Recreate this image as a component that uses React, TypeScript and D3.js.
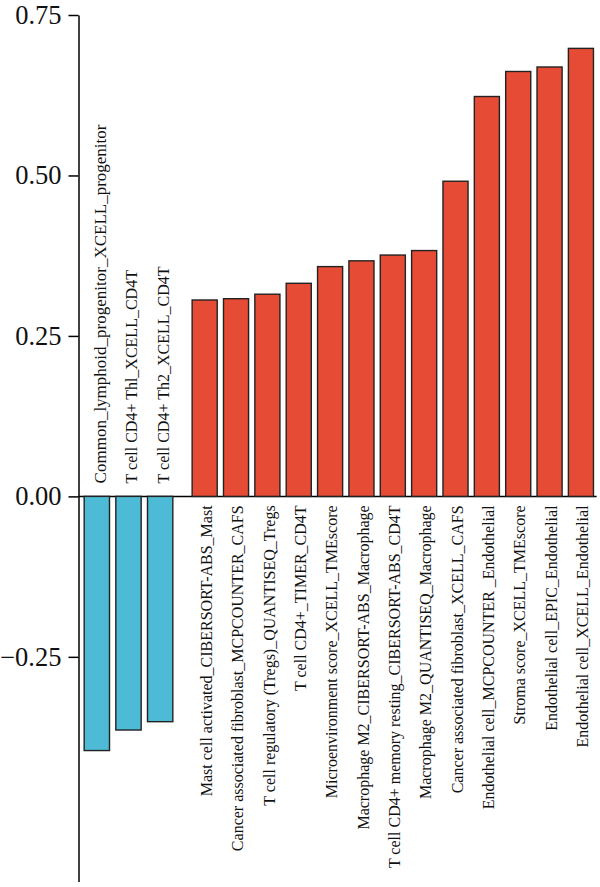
import * as d3 from "d3";
import { useEffect, useRef } from "react";

const WIDTH = 600;
const HEIGHT = 887;

// negative correlations (blue)
const negNames = [
    "Common_lymphoid_progenitor_XCELL_progenitor",
    "T cell CD4+ Thl_XCELL_CD4T",
    "T cell CD4+ Th2_XCELL_CD4T",
];
const negValues = [-0.396, -0.364, -0.351];

// positive correlations (red)
const posNames = [
    "Mast cell activated_CIBERSORT-ABS_Mast",
    "Cancer associated fibroblast_MCPCOUNTER_CAFS",
    "T cell regulatory (Tregs)_QUANTISEQ_Tregs",
    "T cell CD4+_TIMER_CD4T",
    "Microenvironment score_XCELL_TMEscore",
    "Macrophage M2_CIBERSORT-ABS_Macrophage",
    "T cell CD4+ memory resting_CIBERSORT-ABS_CD4T",
    "Macrophage M2_QUANTISEQ_Macrophage",
    "Cancer associated fibroblast_XCELL_CAFS",
    "Endothelial cell_MCPCOUNTER _Endothelial",
    "Stroma score_XCELL_TMEscore",
    "Endothelial cell_EPIC_Endothelial",
    "Endothelial cell_XCELL_Endothelial",
];
const posValues = [0.306, 0.308, 0.315, 0.332, 0.358, 0.367, 0.376, 0.383, 0.491, 0.623, 0.662, 0.669, 0.698];

const yTicks = [-0.25, 0, 0.25, 0.5, 0.75];

const RED = "#E64B35";
const BLUE = "#4DBBD5";
const FONT = "Liberation Serif, Times New Roman, Times, serif";

export default function App() {
    const svgRef = useRef<SVGSVGElement | null>(null);

    useEffect(() => {
        document.body.style.margin = "0";
        if (!svgRef.current) return;
        const svg = d3.select(svgRef.current);
        svg.selectAll("*").remove();

        const axisX = 78.5;
        const y = d3.scaleLinear().domain([-0.6, 0.75]).range([881.5, 15]);
        const negX = d3.scaleBand().domain(negNames).range([81, 176]).paddingInner(0.2).paddingOuter(0.1);
        const posX = d3.scaleBand().domain(posNames).range([189, 596.6]).paddingInner(0.2).paddingOuter(0.1);

        // zero line
        svg.append("line")
            .attr("x1", axisX)
            .attr("x2", posX.range()[1])
            .attr("y1", y(0))
            .attr("y2", y(0))
            .attr("stroke", "#000")
            .attr("stroke-width", 1.5);

        const negData = negNames.map((name, i) => ({ name, value: negValues[i] }));
        const posData = posNames.map((name, i) => ({ name, value: posValues[i] }));

        svg.append("g")
            .selectAll("rect")
            .data(negData)
            .enter()
            .append("rect")
            .attr("x", (d) => negX(d.name)!)
            .attr("y", y(0))
            .attr("width", negX.bandwidth())
            .attr("height", (d) => y(d.value) - y(0))
            .attr("fill", BLUE)
            .attr("stroke", "#222")
            .attr("stroke-width", 1.4);

        svg.append("g")
            .selectAll("rect")
            .data(posData)
            .enter()
            .append("rect")
            .attr("x", (d) => posX(d.name)!)
            .attr("y", (d) => y(d.value))
            .attr("width", posX.bandwidth())
            .attr("height", (d) => y(0) - y(d.value))
            .attr("fill", RED)
            .attr("stroke", "#222")
            .attr("stroke-width", 1.4);

        // labels
        svg.append("g")
            .selectAll("text")
            .data(negData)
            .enter()
            .append("text")
            .attr("transform", (d) => `translate(${negX(d.name)! + negX.bandwidth() / 2},${y(0) - 13}) rotate(-90)`)
            .attr("dy", "0.55em")
            .attr("text-anchor", "start")
            .attr("font-family", FONT)
            .attr("font-size", (d, i) => (i === 0 ? 17 : 16))
            .attr("fill", "#111")
            .text((d) => d.name);

        svg.append("g")
            .selectAll("text")
            .data(posData)
            .enter()
            .append("text")
            .attr("transform", (d) => `translate(${posX(d.name)! + posX.bandwidth() / 2},${y(0) + 9}) rotate(-90)`)
            .attr("dy", "0.45em")
            .attr("text-anchor", "end")
            .attr("font-family", FONT)
            .attr("font-size", 16)
            .attr("fill", "#111")
            .text((d) => d.name);

        // y axis
        const axis = svg.append("g")
            .attr("transform", `translate(${axisX},0)`)
            .call(
                d3.axisLeft(y)
                    .tickValues(yTicks)
                    .tickFormat(d3.format(".2f"))
                    .tickSize(10)
                    .tickSizeOuter(0)
                    .tickPadding(7)
            );
        axis.attr("font-family", FONT).attr("font-size", 26.5);
        axis.select(".domain").attr("stroke-width", 1.5);
        axis.selectAll(".tick line").attr("stroke-width", 1.5);
        axis.selectAll(".tick text").attr("fill", "#111");

        return () => { svg.selectAll("*").remove(); };
    }, []);

    return <svg ref={svgRef} width={WIDTH} height={HEIGHT} style={{ display: "block", background: "#fff" }} />;
}
